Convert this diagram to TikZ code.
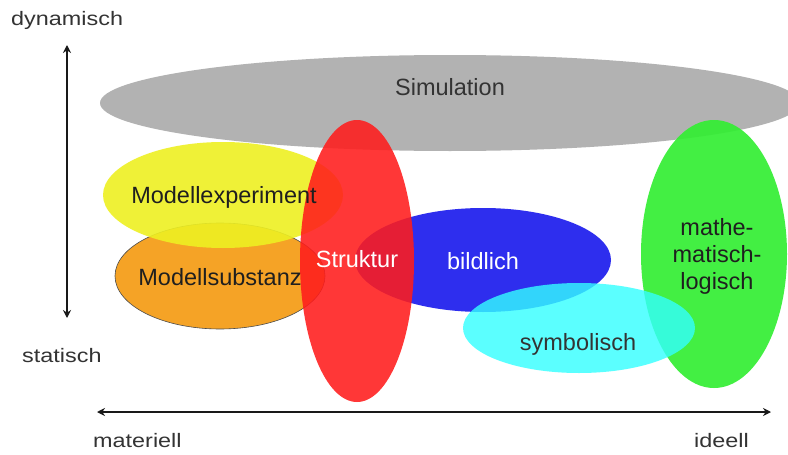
\documentclass[tikz,border=0pt]{standalone}
\usepackage{fontspec}
\setmainfont{Liberation Sans}
\newfontfamily\axisfont[FakeStretch=1.2]{Liberation Sans}
\usetikzlibrary{shapes.geometric,arrows.meta}

\definecolor{simgray}{HTML}{B2B2B2}
\definecolor{expyellow}{HTML}{EEF022}
\definecolor{suborange}{HTML}{F5A326}
\definecolor{strred}{HTML}{FF1C1C}
\definecolor{bildblue}{HTML}{2E2EEE}
\definecolor{symcyan}{HTML}{33FFFF}
\definecolor{mathgreen}{HTML}{33EE33}
\definecolor{labelgray}{HTML}{333333}

\tikzset{
  blob/.style={ellipse, inner sep=0pt, draw=none},
  blobtext/.style={anchor=base, inner sep=0pt, text=black!88,
    font=\fontsize{23.5}{27}\selectfont},
  axistext/.style={anchor=base west, inner sep=0pt, text=labelgray,
    font=\axisfont\fontsize{19.5}{22}\selectfont},
  axis/.style={line width=2pt, black!90,
    {Stealth[length=8pt,width=8pt]}-{Stealth[length=8pt,width=8pt]}}
}

\begin{document}
\begin{tikzpicture}[x=1pt,y=-1pt]
\clip (0,0) rectangle (788,455);
\fill[white] (0,0) rectangle (788,455);

% areas, back to front
\node[blob, fill=simgray, minimum width=700pt, minimum height=96pt] (sim) at (450,103) {};
\node[blob, fill=bildblue, minimum width=256pt, minimum height=104pt] (bild) at (483,260) {};
\node[blob, fill=suborange, draw=black!70, line width=0.6pt,
      minimum width=210pt, minimum height=106pt] (sub) at (220,276) {};
\node[blob, fill=expyellow, fill opacity=0.9, minimum width=240pt, minimum height=106pt] (exp) at (223,195) {};
\node[blob, fill=strred, fill opacity=0.88, minimum width=114pt, minimum height=282pt] (str) at (357,261) {};
\node[blob, fill=mathgreen, fill opacity=0.92, minimum width=146pt, minimum height=268pt] (math) at (714,254) {};
\node[blob, fill=symcyan, fill opacity=0.8, minimum width=232pt, minimum height=90pt] (sym) at (579,328) {};

% labels of the areas
\node[blobtext, text=labelgray] (simlabel) at (450,95) {Simulation};
\node[blobtext] (explabel) at (224,203) {Modellexperiment};
\node[blobtext] (sublabel) at (220,285) {Modellsubstanz};
\node[blobtext, text=white] (strlabel) at (357,267) {Struktur};
\node[blobtext, text=white] (bildlabel) at (483,269) {bildlich};
\node[blobtext, text=black!80] (symlabel) at (578,350) {symbolisch};
\node[blobtext, align=center, anchor=base] (mathlabel) at (717,289)
  {mathe-\\matisch-\\logisch};

% axes
\coordinate (vtop) at (67,45);
\coordinate (vbot) at (67,318);
\coordinate (hleft) at (97,412);
\coordinate (hright) at (771,412);
\draw[axis] (vtop) -- (vbot);
\draw[axis] (hleft) -- (hright);

\node[axistext] (dyn) at (11,25) {dynamisch};
\node[axistext] (stat) at (22,362) {statisch};
\node[axistext] (mat) at (93,447) {materiell};
\node[axistext] (ide) at (694,447) {ideell};
\end{tikzpicture}
\end{document}
